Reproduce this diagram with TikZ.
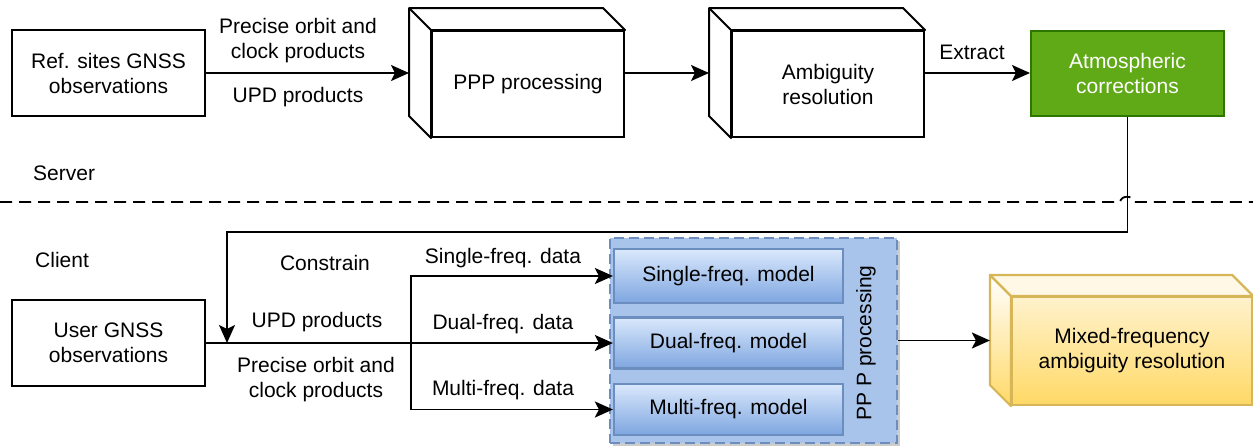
\documentclass[tikz,border=0pt]{standalone}
\usepackage{fontspec}
\setmainfont{Liberation Sans}
\usetikzlibrary{arrows.meta}
\definecolor{grfill}{HTML}{60A917}
\definecolor{grline}{HTML}{2D7600}
\definecolor{blline}{HTML}{6C8EBF}
\definecolor{blfill}{HTML}{A9C4EB}
\definecolor{bltop}{HTML}{DAE8FC}
\definecolor{blbot}{HTML}{7EA6E0}
\definecolor{yeltop}{HTML}{FFF2CC}
\definecolor{yelbot}{HTML}{FFD966}
\definecolor{yelline}{HTML}{D6B656}
\tikzset{
  lbl/.style={font=\fontsize{21}{25}\selectfont, align=center, inner sep=0pt},
  plainbox/.style={draw, line width=2pt, fill=white, inner sep=0pt, lbl},
  arr/.style={line width=1.9pt, -{Stealth[length=18pt,width=16pt,inset=4pt]}},
  conn/.style={line width=2pt},
  modelbox/.style={draw=blline, line width=2.2pt, top color=bltop, bottom color=blbot, minimum width=229pt, inner sep=0pt, lbl},
}
\begin{document}
\begin{tikzpicture}[x=1pt,y=-1pt]
\useasboundingbox (0,0) rectangle (1253,447);

% ---------- server side ----------
\node[plainbox, minimum width=193pt, minimum height=86pt] (ref) at (108.5,73) {Ref. sites GNSS\\observations};

\node[plainbox, minimum width=192pt, minimum height=106pt] (ppp) at (528,84) {PPP processing};
\filldraw[conn, fill=white, line join=round] (ppp.south west) -- ([shift={(-22,-22)}]ppp.south west) -- ([shift={(-22,-22)}]ppp.north west) -- ([shift={(-22,-22)}]ppp.north east) -- (ppp.north east) -- (ppp.north west) -- cycle;
\draw[conn] (ppp.north west) -- ([shift={(-22,-22)}]ppp.north west);

\node[plainbox, minimum width=192pt, minimum height=106pt] (amb) at (828,84) {Ambiguity\\resolution};
\filldraw[conn, fill=white, line join=round] (amb.south west) -- ([shift={(-22,-22)}]amb.south west) -- ([shift={(-22,-22)}]amb.north west) -- ([shift={(-22,-22)}]amb.north east) -- (amb.north east) -- (amb.north west) -- cycle;
\draw[conn] (amb.north west) -- ([shift={(-22,-22)}]amb.north west);

\node[draw=grline, fill=grfill, line width=2pt, minimum width=193pt, minimum height=85pt, lbl, text=white] (atm) at (1127.5,73.5) {Atmospheric\\corrections};

\draw[arr] (ref.east) -- ([shift={(-22,-11)}]ppp.west);
\node[lbl] (lpo1) at (298,40.5) {Precise orbit and\\clock products};
\node[lbl] (lupd1) at (298,97) {UPD products};
\draw[arr] ([shift={(0,-11)}]ppp.east) -- ([shift={(-22,-11)}]amb.west);
\draw[arr] ([shift={(0,-11)}]amb.east) coordinate (a1) -- (a1 -| atm.west);
\node[lbl] (lext) at (972,52) {Extract};

\node[lbl, anchor=west] (server) at (33,173) {Server};

% separator with jump
\coordinate (dl0) at (0,202);
\coordinate (dl1) at (1253,202);
\draw[line width=1.8pt, dash pattern=on 12pt off 7pt] (dl0) -- (1120,202) .. controls (1121,195) and (1133,195) .. (1134,202) -- (dl1);

% ---------- client side ----------
\node[lbl, anchor=west] (client) at (35,260) {Client};
\node[plainbox, minimum width=193pt, minimum height=86pt] (user) at (108.5,343) {User GNSS\\observations};

\fill[black!20] (613,241) rectangle (900,446);
\node[draw=blline, fill=blfill, line width=2.6pt, dash pattern=on 10pt off 5pt, minimum width=287pt, minimum height=205pt, inner sep=0pt] (cont) at (753.5,340.5) {};
\node[modelbox, minimum height=54pt] (single) at (728.5,276) {Single-freq. model};
\node[modelbox, minimum height=51pt] (dual) at (728.5,343) {Dual-freq. model};
\node[modelbox, minimum height=51pt] (multi) at (728.5,409.5) {Multi-freq. model};
\node[lbl, rotate=90] (ppplbl) at (866,343) {PP P processing};

\coordinate (merge) at (227,343);
\coordinate (bend) at (227,232);
\draw[arr] (atm.south) |- (bend) -- (merge);

\coordinate (split) at (411,343);
\draw[arr] (user.east) -- (dual.west);
\draw[arr] (split) |- (single.west);
\draw[arr] (split) |- (multi.west);

\node[lbl] (lcon) at (325,263) {Constrain};
\node[lbl] (lupd2) at (317,322) {UPD products};
\node[lbl] (lpo2) at (316,380) {Precise orbit and\\clock products};
\node[lbl] (lsd) at (503,258) {Single-freq. data};
\node[lbl] (ldd) at (503,324) {Dual-freq. data};
\node[lbl] (lmd) at (503,390) {Multi-freq. data};

% mixed-frequency box
\node[draw=yelline, line width=2.2pt, top color=yeltop, bottom color=yelbot, minimum width=240pt, minimum height=108pt, lbl] (mixed) at (1132,351) {Mixed-frequency\\ambiguity resolution};
\filldraw[draw=yelline, line width=2.2pt, top color=white, bottom color=yelbot, line join=round] (mixed.south west) -- ([shift={(-21,-21)}]mixed.south west) -- ([shift={(-21,-21)}]mixed.north west) -- (mixed.north west) -- cycle;
\filldraw[draw=yelline, line width=2.2pt, fill=yeltop!50!white, line join=round] (mixed.north west) -- ([shift={(-21,-21)}]mixed.north west) -- ([shift={(-21,-21)}]mixed.north east) -- (mixed.north east) -- cycle;
\coordinate (mixback) at ([shift={(-21,0)}]mixed.west);
\draw[arr] (cont.east) -- (cont.east -| mixback);
\end{tikzpicture}
\end{document}
